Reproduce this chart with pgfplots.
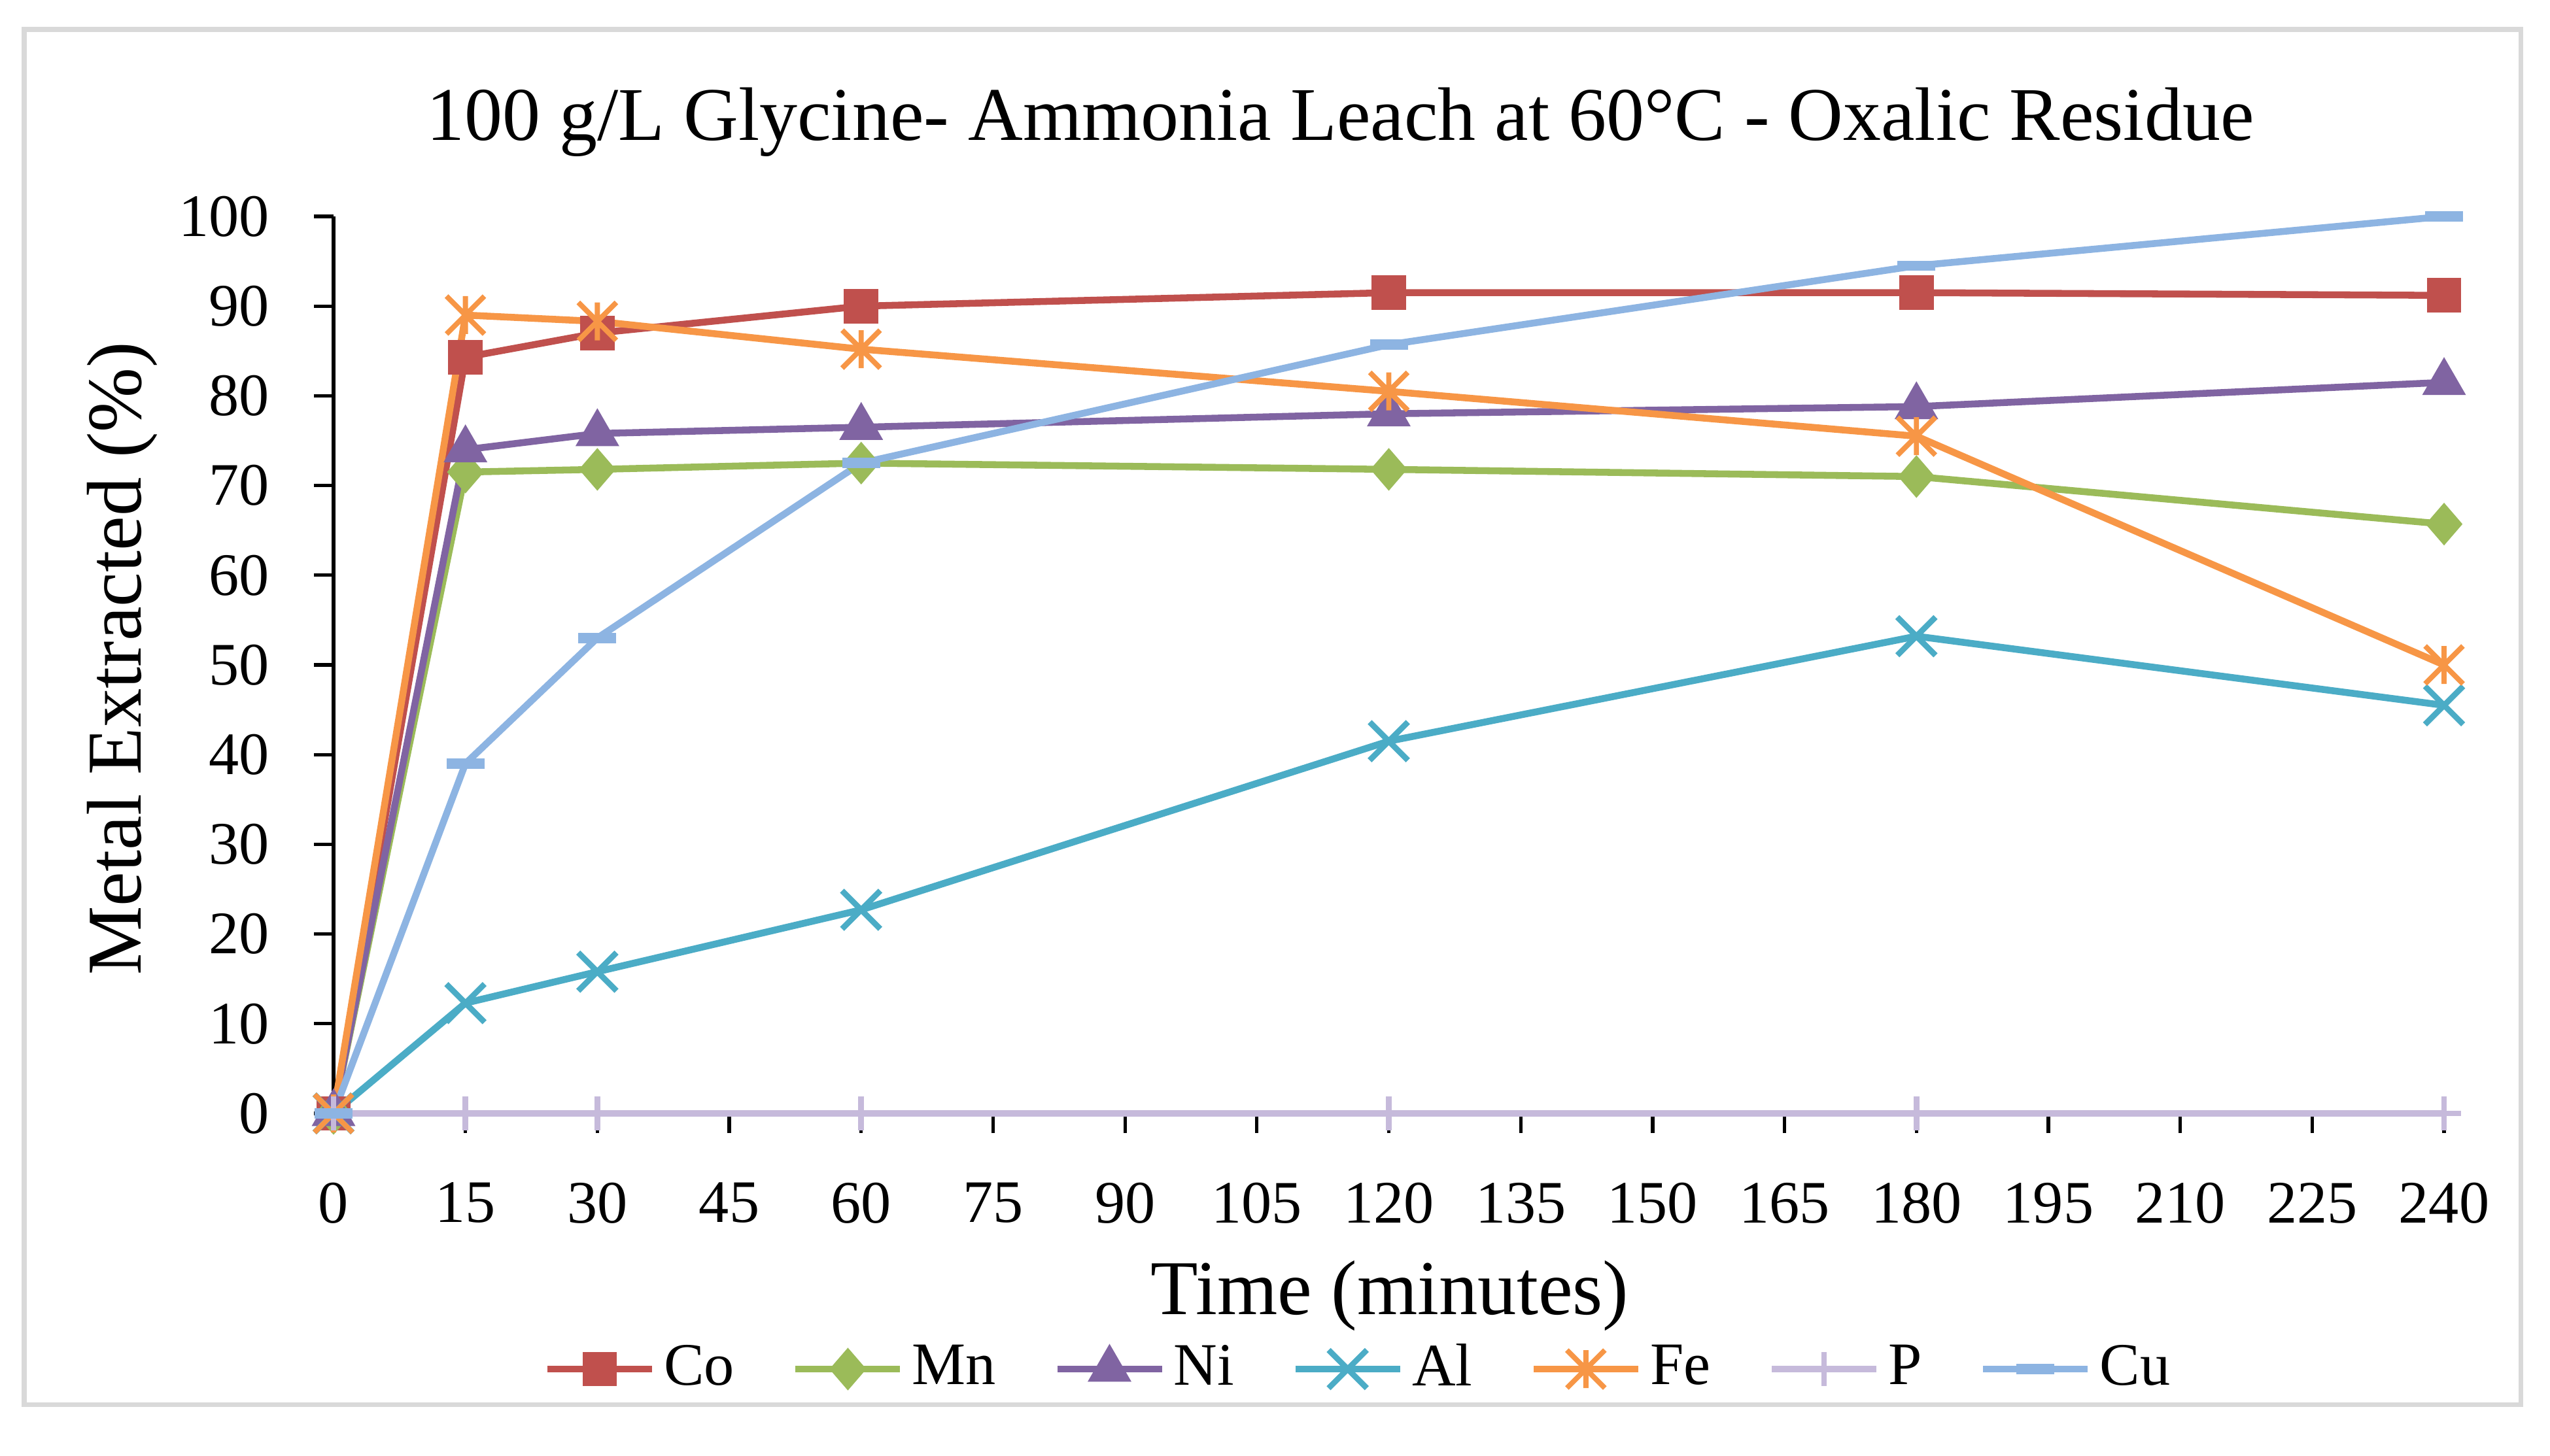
\documentclass[border=0pt]{standalone}
\usepackage{fontspec}
\setmainfont{Liberation Serif}
\usepackage{pgfplots}
\pgfplotsset{compat=1.18}

\definecolor{cCo}{HTML}{C0504D}
\definecolor{cMn}{HTML}{9BBB59}
\definecolor{cNi}{HTML}{8064A2}
\definecolor{cAl}{HTML}{4BACC6}
\definecolor{cFe}{HTML}{F79646}
\definecolor{cP}{HTML}{C6BADB}
\definecolor{cCu}{HTML}{8DB4E2}
\definecolor{frame}{HTML}{D9D9D9}

% Excel-style star: an x with a vertical stroke through it
\pgfdeclareplotmark{xstar}{%
  \pgfpathmoveto{\pgfqpoint{-\pgfplotmarksize}{-\pgfplotmarksize}}%
  \pgfpathlineto{\pgfqpoint{\pgfplotmarksize}{\pgfplotmarksize}}%
  \pgfpathmoveto{\pgfqpoint{-\pgfplotmarksize}{\pgfplotmarksize}}%
  \pgfpathlineto{\pgfqpoint{\pgfplotmarksize}{-\pgfplotmarksize}}%
  \pgfpathmoveto{\pgfqpoint{0pt}{-\pgfplotmarksize}}%
  \pgfpathlineto{\pgfqpoint{0pt}{\pgfplotmarksize}}%
  \pgfusepathqstroke}

\begin{document}
\begin{tikzpicture}
\path[use as bounding box] (0,0) rectangle (15.596cm,8.904cm);
\draw[frame, line width=0.8pt] (0.148cm,0.312cm) rectangle (15.416cm,8.724cm);
\begin{axis}[
    at={(2.04cm,2.092cm)}, anchor=south west,
    scale only axis,
    width=12.908cm, height=5.488cm,
    xmin=0, xmax=240, ymin=0, ymax=100,
    xtick={0,15,...,240},
    ytick={0,10,...,100},
    axis x line*=bottom, axis y line*=left,
    axis line style={-, black, line width=0.6pt},
    tick align=outside,
    major tick length=0.12cm,
    tick style={black, line width=0.6pt},
    /pgf/number format/assume math mode=true,
    ticklabel style={font=\fontsize{10.5}{12}\selectfont},
    xticklabel style={yshift=-0.18cm},
    yticklabel style={xshift=-0.15cm},
    clip=false,
    title={100 g/L Glycine- Ammonia Leach at 60°C - Oxalic Residue},
    every axis title shift=0pt,
    title style={at={(0.477,1.105)}, anchor=center, font=\fontsize{13.2}{15}\selectfont},
    xlabel={Time (minutes)},
    xlabel style={at={(0.5005,-0.2034)}, anchor=center, font=\fontsize{13.5}{16}\selectfont},
    ylabel={Metal Extracted (\%)},
    ylabel style={at={(-0.1001,0.507)}, anchor=center, rotate=0, font=\fontsize{13.5}{16}\selectfont},
    every axis plot/.append style={line width=1.2pt},
    legend style={
        at={(0.487,-0.285)}, anchor=center,
        legend columns=7, draw=none, fill=none,
        font=\fontsize{10.5}{12}\selectfont,
        nodes={inner xsep=1.5pt},
        /tikz/every even column/.append style={column sep=0.3cm},
    },
    legend image code/.code={
        \draw[mark repeat=2, mark phase=2] plot coordinates {(0cm,0cm) (0.32cm,0cm) (0.64cm,0cm)};
    },
]

\addplot[color=cCo, mark=square*, mark size=2.4pt] coordinates {
    (0,0) (15,84.3) (30,87) (60,90) (120,91.5) (180,91.5) (240,91.2)};
\addlegendentry{Co}

\addplot[color=cMn, mark=diamond*, mark size=2.8pt, mark options={xscale=1.15}] coordinates {
    (0,0) (15,71.5) (30,71.8) (60,72.5) (120,71.8) (180,71) (240,65.7)};
\addlegendentry{Mn}

\addplot[color=cNi, mark=triangle*, mark size=3.2pt] coordinates {
    (0,0) (15,74) (30,75.8) (60,76.5) (120,78) (180,78.8) (240,81.5)};
\addlegendentry{Ni}

\addplot[color=cAl, mark=x, mark size=4.7pt, mark options={line width=1pt}] coordinates {
    (0,0) (15,12.3) (30,15.8) (60,22.7) (120,41.5) (180,53.2) (240,45.5)};
\addlegendentry{Al}

\addplot[color=cFe, mark=xstar, mark size=3.3pt, mark options={line width=0.9pt}] coordinates {
    (0,0) (15,89) (30,88.3) (60,85.2) (120,80.5) (180,75.5) (240,50)};
\addlegendentry{Fe}

\addplot[color=cP, mark=+, mark size=3pt, mark options={line width=1pt}] coordinates {
    (0,0) (15,0) (30,0) (60,0) (120,0) (180,0) (240,0)};
\addlegendentry{P}

\addplot[color=cCu, mark=-, mark size=3.3pt, mark options={line width=1.8pt}] coordinates {
    (0,0) (15,39) (30,53) (60,72.5) (120,85.7) (180,94.5) (240,100)};
\addlegendentry{Cu}

\end{axis}
\end{tikzpicture}
\end{document}
